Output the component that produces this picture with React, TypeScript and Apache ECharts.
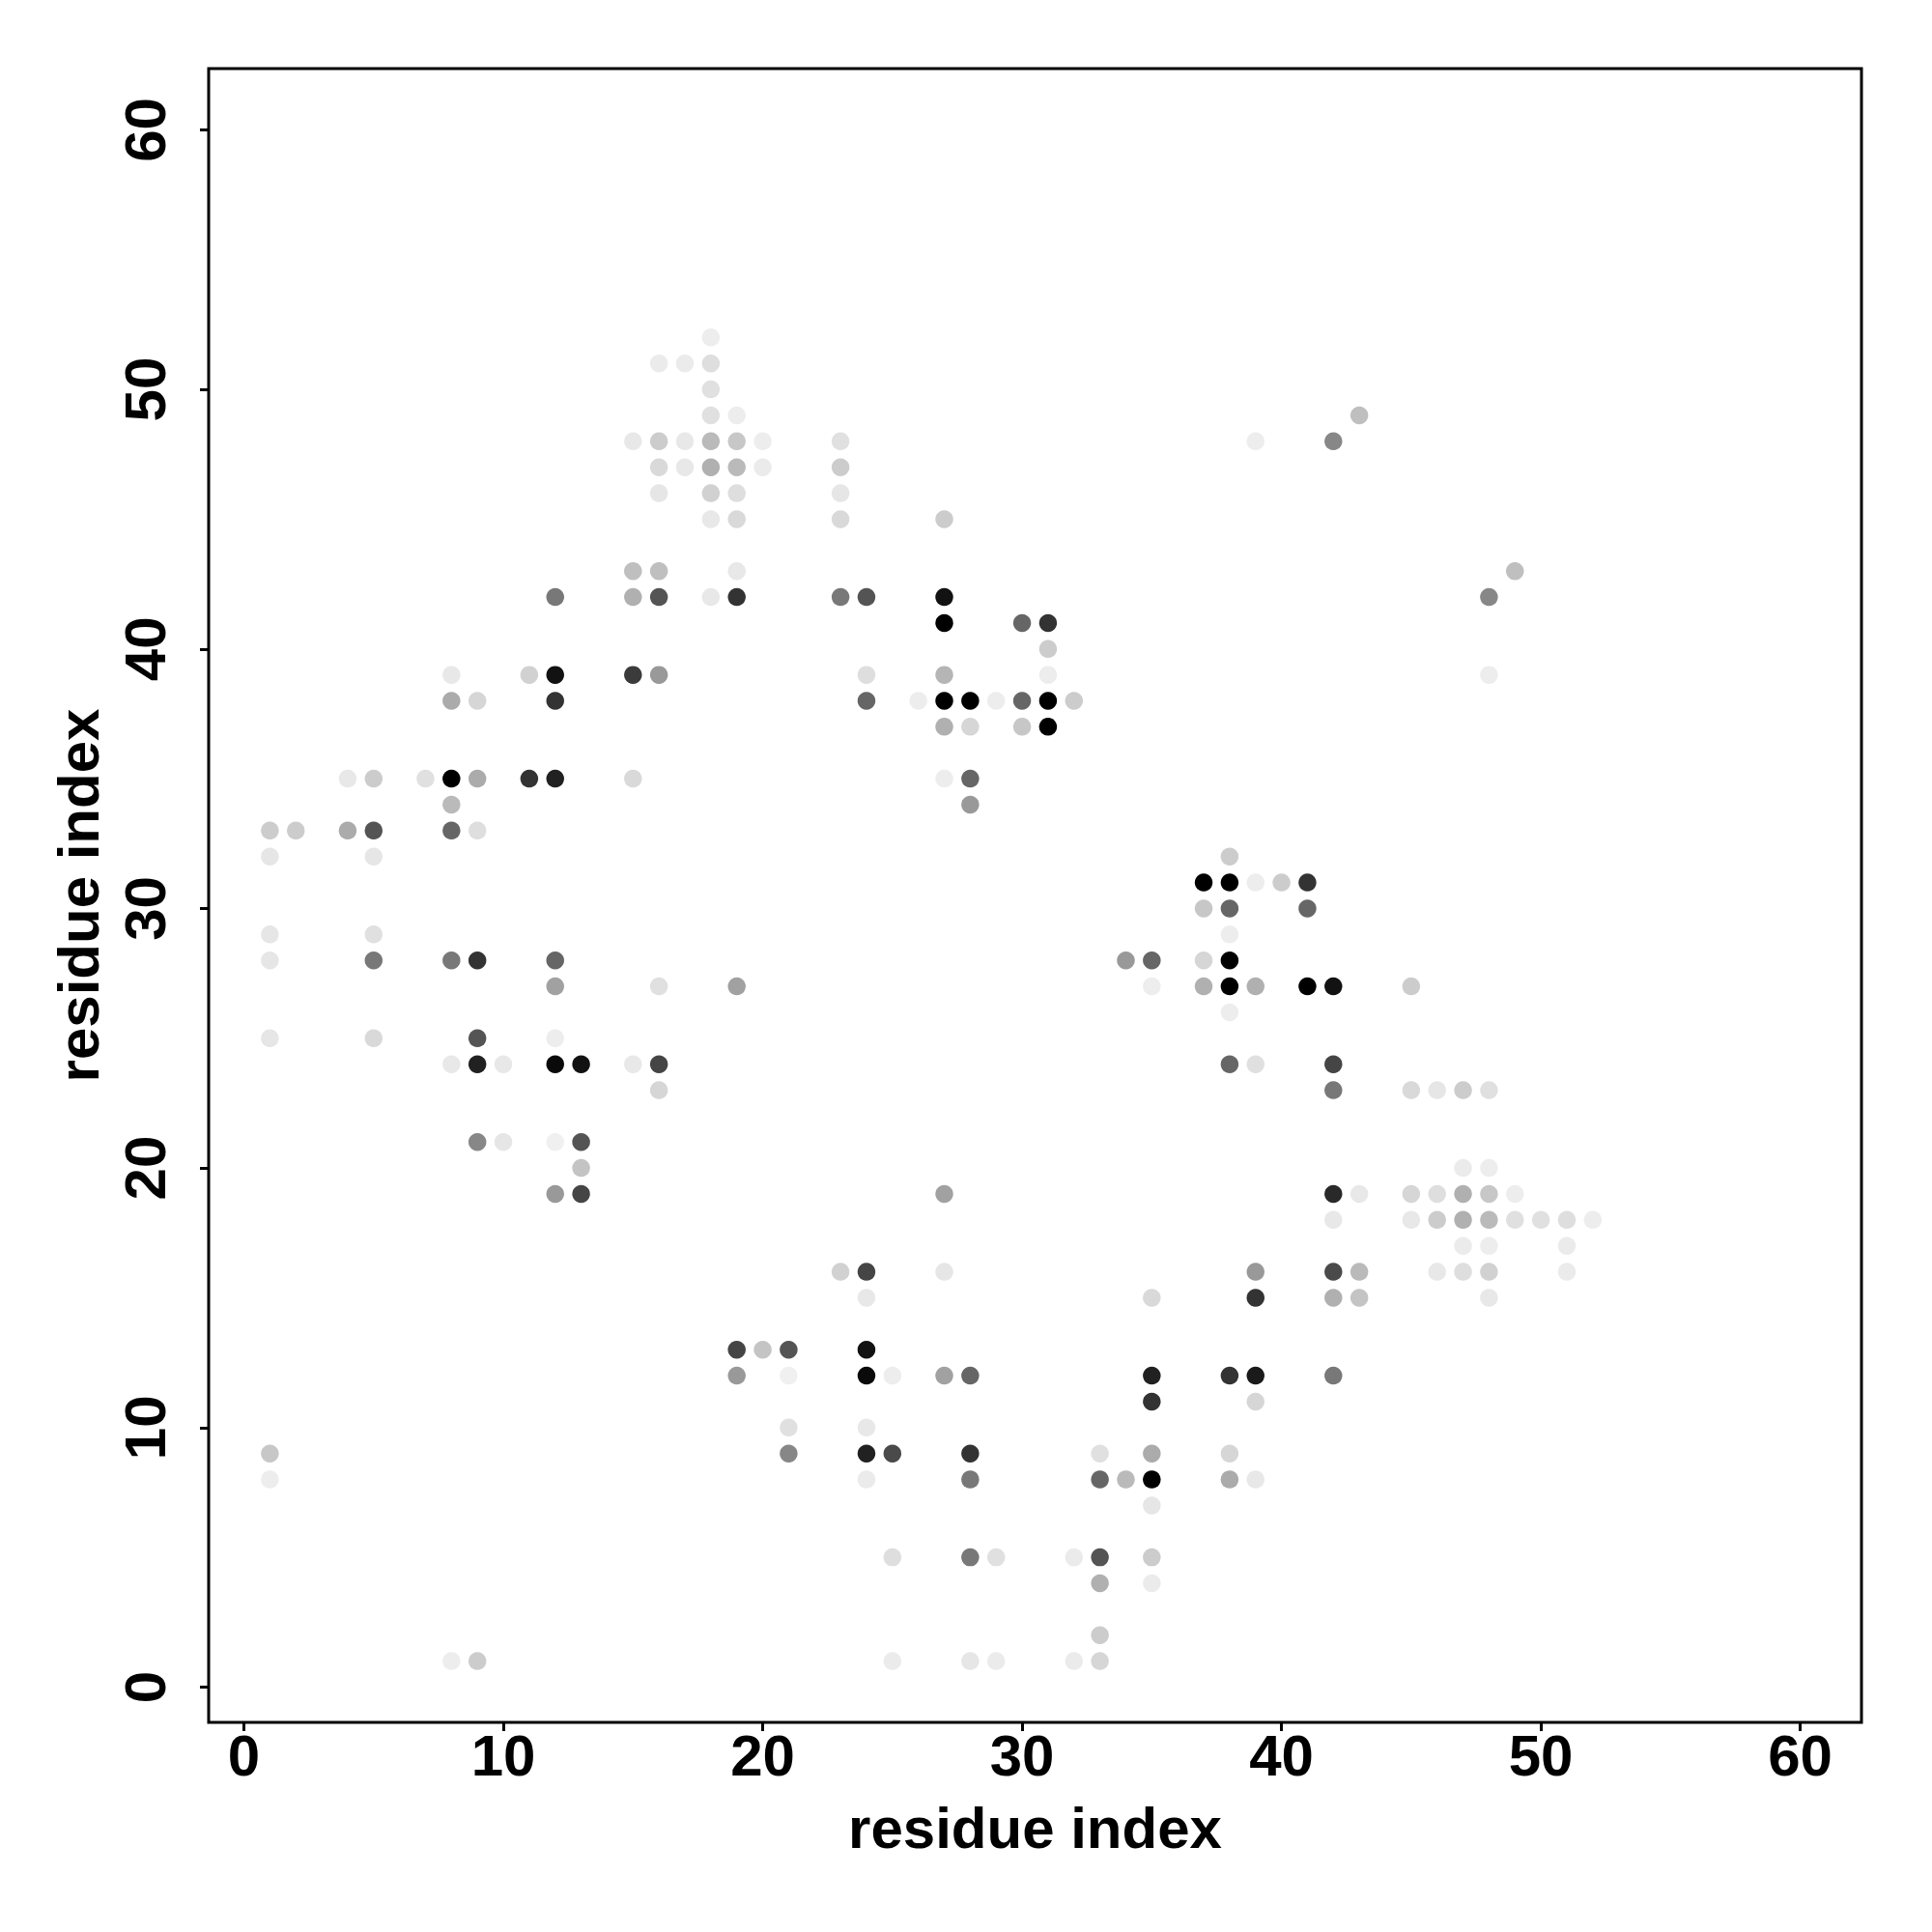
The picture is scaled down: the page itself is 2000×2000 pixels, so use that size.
import React, { useEffect, useRef } from "react";
import * as echarts from "echarts";

// Tick positions shared by both axes
const tickValues = [0, 10, 20, 30, 40, 50, 60];
const axisTitle = "residue index";

// Contact map, read row by row: residue j (y), the residues i (x) in that row, and their scores
const contactRows = [
  52, 51, 50, 49, 48, 47, 46, 45, 43, 42, 41, 40, 39, 38, 37, 35, 34, 33, 32, 31, 30, 29, 28, 27, 26,
  25, 24, 23, 21, 20, 19, 18, 17, 16, 15, 13, 12, 11, 10, 9, 8, 7, 5, 4, 2, 1,
];

const rowResidues = [
  [18],
  [16, 17, 18],
  [18],
  [18, 19, 43],
  [15, 16, 17, 18, 19, 20, 23, 39, 42],
  [16, 17, 18, 19, 20, 23],
  [16, 18, 19, 23],
  [18, 19, 23, 27],
  [15, 16, 19, 49],
  [12, 15, 16, 18, 19, 23, 24, 27, 48],
  [27, 30, 31],
  [31],
  [8, 11, 12, 15, 16, 24, 27, 31, 48],
  [8, 9, 12, 24, 26, 27, 28, 29, 30, 31, 32],
  [27, 28, 30, 31],
  [4, 5, 7, 8, 9, 11, 12, 15, 27, 28],
  [8, 28],
  [1, 2, 4, 5, 8, 9],
  [1, 5, 38],
  [37, 38, 39, 40, 41],
  [37, 38, 41],
  [1, 5, 38],
  [1, 5, 8, 9, 12, 34, 35, 37, 38],
  [12, 16, 19, 35, 37, 38, 39, 41, 42, 45],
  [38],
  [1, 5, 9, 12],
  [8, 9, 10, 12, 13, 15, 16, 38, 39, 42],
  [16, 42, 45, 46, 47, 48],
  [9, 10, 12, 13],
  [13, 47, 48],
  [12, 13, 27, 42, 43, 45, 46, 47, 48, 49],
  [42, 45, 46, 47, 48, 49, 50, 51, 52],
  [47, 48, 51],
  [23, 24, 27, 39, 42, 43, 46, 47, 48, 51],
  [24, 35, 39, 42, 43, 48],
  [19, 20, 21, 24],
  [19, 21, 24, 25, 27, 28, 35, 38, 39, 42],
  [35, 39],
  [21, 24],
  [1, 21, 24, 25, 28, 33, 35, 38],
  [1, 24, 28, 33, 34, 35, 38, 39],
  [35],
  [25, 28, 29, 32, 33, 35],
  [33, 35],
  [33],
  [8, 9, 25, 28, 29, 32, 33],
];

const rowScores = [
  [0.07],
  [0.08, 0.08, 0.13],
  [0.12],
  [0.12, 0.07, 0.25],
  [0.09, 0.2, 0.09, 0.27, 0.22, 0.07, 0.12, 0.07, 0.47],
  [0.15, 0.09, 0.31, 0.27, 0.08, 0.2],
  [0.1, 0.18, 0.13, 0.1],
  [0.09, 0.15, 0.15, 0.2],
  [0.25, 0.25, 0.09, 0.25],
  [0.53, 0.31, 0.67, 0.09, 0.8, 0.53, 0.67, 0.93, 0.47],
  [1.0, 0.6, 0.8],
  [0.2],
  [0.09, 0.18, 0.93, 0.77, 0.4, 0.13, 0.29, 0.07, 0.07],
  [0.33, 0.16, 0.8, 0.6, 0.07, 1.0, 1.0, 0.07, 0.6, 1.0, 0.2],
  [0.31, 0.16, 0.22, 1.0],
  [0.09, 0.2, 0.12, 1.0, 0.33, 0.8, 0.87, 0.15, 0.07, 0.6],
  [0.27, 0.4],
  [0.2, 0.2, 0.33, 0.67, 0.6, 0.13],
  [0.1, 0.1, 0.2],
  [1.0, 1.0, 0.07, 0.2, 0.8],
  [0.22, 0.6, 0.6],
  [0.1, 0.12, 0.07],
  [0.1, 0.53, 0.53, 0.8, 0.6, 0.4, 0.6, 0.16, 1.0],
  [0.37, 0.12, 0.37, 0.07, 0.31, 1.0, 0.31, 1.0, 0.93, 0.2],
  [0.07],
  [0.1, 0.15, 0.67, 0.07],
  [0.09, 0.87, 0.09, 0.96, 0.93, 0.09, 0.73, 0.6, 0.12, 0.73],
  [0.16, 0.53, 0.15, 0.1, 0.2, 0.12],
  [0.47, 0.1, 0.06, 0.67],
  [0.23, 0.08, 0.07],
  [0.4, 0.73, 0.37, 0.84, 0.09, 0.16, 0.13, 0.31, 0.22, 0.07],
  [0.09, 0.09, 0.2, 0.31, 0.27, 0.12, 0.12, 0.13, 0.07],
  [0.08, 0.07, 0.08],
  [0.18, 0.73, 0.1, 0.4, 0.71, 0.27, 0.09, 0.13, 0.18, 0.08],
  [0.09, 0.15, 0.8, 0.31, 0.23, 0.09],
  [0.73, 0.23, 0.67, 0.93],
  [0.4, 0.06, 0.96, 0.07, 0.37, 0.6, 0.87, 0.8, 0.9, 0.53],
  [0.8, 0.16],
  [0.12, 0.09],
  [0.22, 0.47, 0.87, 0.71, 0.8, 0.12, 0.33, 0.16],
  [0.07, 0.08, 0.53, 0.6, 0.27, 1.0, 0.33, 0.09],
  [0.1],
  [0.13, 0.53, 0.12, 0.08, 0.67, 0.2],
  [0.31, 0.08],
  [0.2],
  [0.07, 0.2, 0.08, 0.1, 0.08, 0.08, 0.16],
];

const FONT = '"Liberation Sans", Arial, Helvetica, sans-serif';

export default function App() {
  const ref = useRef<HTMLDivElement>(null);

  useEffect(() => {
    if (!ref.current) return;
    const chart = echarts.init(ref.current, undefined, { renderer: "svg" });

    const data: number[][] = [];
    contactRows.forEach((j, r) => {
      rowResidues[r].forEach((i, k) => {
        data.push([i, j, rowScores[r][k]]);
      });
    });

    const textStyle = { fontFamily: FONT, fontSize: 60, fontWeight: "bold" as const, color: "#000" };

    const axisCommon = {
      type: "value" as const,
      min: -1.36,
      max: 62.36,
      name: axisTitle,
      nameLocation: "middle" as const,
      nameTextStyle: textStyle,
      axisLine: { show: false, onZero: false },
      axisTick: {
        show: true,
        length: 9,
        lineStyle: { color: "#000", width: 3 },
        customValues: tickValues,
      },
      splitLine: { show: false },
    };

    chart.setOption({
      animation: false,
      backgroundColor: "#ffffff",
      grid: {
        left: 216,
        top: 71,
        width: 1711,
        height: 1712,
        show: true,
        borderColor: "#000",
        borderWidth: 3,
        backgroundColor: "transparent",
      },
      xAxis: {
        ...axisCommon,
        nameGap: 79,
        axisLabel: { ...textStyle, customValues: tickValues, margin: 4 },
      },
      yAxis: {
        ...axisCommon,
        nameGap: 105,
        axisLabel: { ...textStyle, customValues: tickValues, margin: 36, rotate: 90 },
      },
      visualMap: {
        show: false,
        type: "continuous",
        min: 0,
        max: 1,
        dimension: 2,
        inRange: { color: ["#ffffff", "#000000"] },
      },
      series: [
        {
          type: "scatter",
          data,
          symbol: "circle",
          symbolSize: 18.5,
          itemStyle: { opacity: 1 },
        },
      ],
    });

    return () => chart.dispose();
  }, []);

  return (
    <div
      ref={ref}
      style={{ position: "absolute", left: 0, top: 0, width: 2000, height: 2000 }}
    />
  );
}
